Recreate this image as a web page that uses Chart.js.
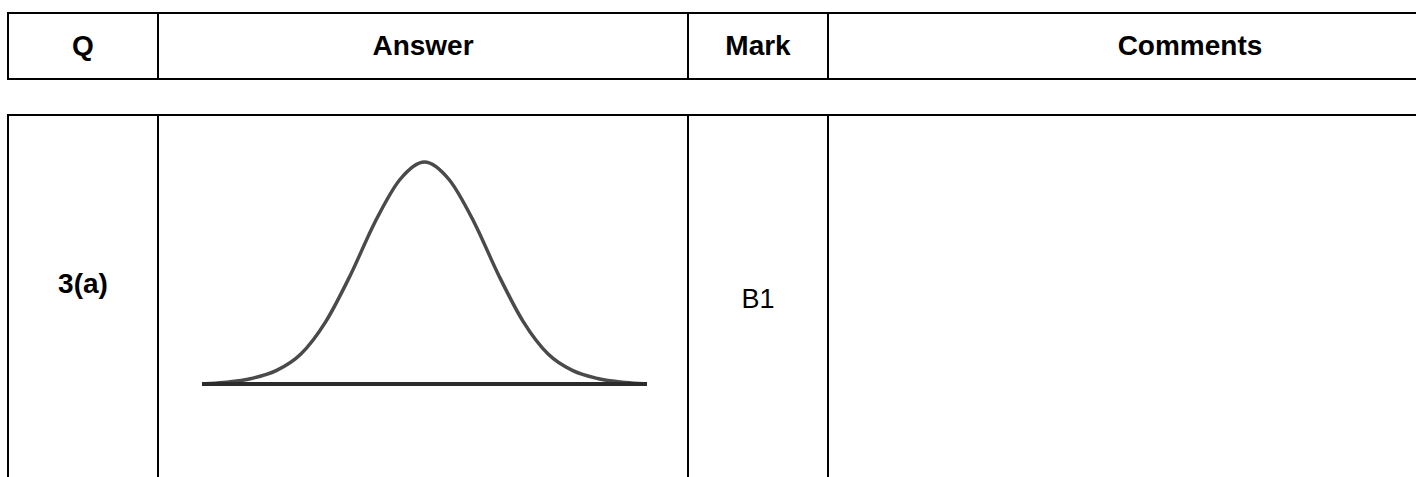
<!DOCTYPE html>
<html>
<head>
<meta charset="utf-8">
<script src="https://cdn.jsdelivr.net/npm/chart.js@4.4.0/dist/chart.umd.min.js"></script>
<style>
  html, body { margin: 0; padding: 0; background: #fff; overflow: hidden; }
  body { width: 1416px; height: 477px; position: relative; font-family: Arial, "Liberation Sans", sans-serif; color: #000; }
  .ln { position: absolute; background: #000; }
  .txt { position: absolute; text-align: center; white-space: nowrap; }
  .hd { font-weight: bold; font-size: 28px; }
  #curveWrap { position: absolute; left: 192px; top: 150px; width: 465px; height: 245px; }
</style>
</head>
<body>
<!-- header table -->
<div class="ln" style="left:7px;top:12px;width:1420px;height:2px"></div>
<div class="ln" style="left:7px;top:78px;width:1420px;height:2px"></div>
<div class="ln" style="left:7px;top:12px;width:2px;height:68px"></div>
<div class="ln" style="left:157px;top:12px;width:2px;height:68px"></div>
<div class="ln" style="left:687px;top:12px;width:2px;height:68px"></div>
<div class="ln" style="left:827px;top:12px;width:2px;height:68px"></div>

<div class="txt hd" style="left:9px;width:148px;top:30px">Q</div>
<div class="txt hd" style="left:159px;width:528px;top:30px">Answer</div>
<div class="txt hd" style="left:689px;width:138px;top:30px">Mark</div>
<div class="txt hd" style="left:829px;width:722px;top:30px">Comments</div>

<!-- answer row -->
<div class="ln" style="left:7px;top:114px;width:1420px;height:2px"></div>
<div class="ln" style="left:7px;top:114px;width:2px;height:380px"></div>
<div class="ln" style="left:157px;top:114px;width:2px;height:380px"></div>
<div class="ln" style="left:687px;top:114px;width:2px;height:380px"></div>
<div class="ln" style="left:827px;top:114px;width:2px;height:380px"></div>

<div class="txt hd" style="left:9px;width:148px;top:268px">3(a)</div>
<div class="txt" style="left:689px;width:138px;top:284px;font-size:27px">B1</div>

<div id="curveWrap"><canvas id="curve"></canvas></div>

<script>
// bell curve (x in spread units, y as share of peak height)
const curveX = [-3.6, -3.2, -2.8, -2.4, -2.0, -1.6, -1.2, -0.8, -0.4, 0, 0.4, 0.8, 1.2, 1.6, 2.0, 2.4, 2.8, 3.2, 3.6];
const curveY = [0.0, 0.008, 0.025, 0.06, 0.135, 0.28, 0.49, 0.73, 0.92, 1.0, 0.92, 0.73, 0.49, 0.28, 0.135, 0.06, 0.025, 0.008, 0.0];
const baseX = [-3.6, 3.6];
const baseY = [0, 0];

const pts = (xs, ys) => xs.map((x, i) => ({ x: x, y: ys[i] }));

new Chart(document.getElementById("curve"), {
  type: "line",
  data: {
    datasets: [
      {
        data: pts(baseX, baseY),
        borderColor: "#2b2b2b",
        borderWidth: 4,
        pointRadius: 0,
        clip: false
      },
      {
        data: pts(curveX, curveY),
        borderColor: "#4a4a4a",
        borderWidth: 3.5,
        pointRadius: 0,
        cubicInterpolationMode: "monotone",
        clip: false
      }
    ]
  },
  options: {
    responsive: true,
    maintainAspectRatio: false,
    animation: false,
    layout: { padding: { left: 10, right: 10, top: 12, bottom: 11 } },
    plugins: { legend: { display: false }, tooltip: { enabled: false } },
    scales: {
      x: { type: "linear", min: -3.6, max: 3.6, display: false },
      y: { min: 0, max: 1, display: false }
    }
  }
});
</script>
</body>
</html>
